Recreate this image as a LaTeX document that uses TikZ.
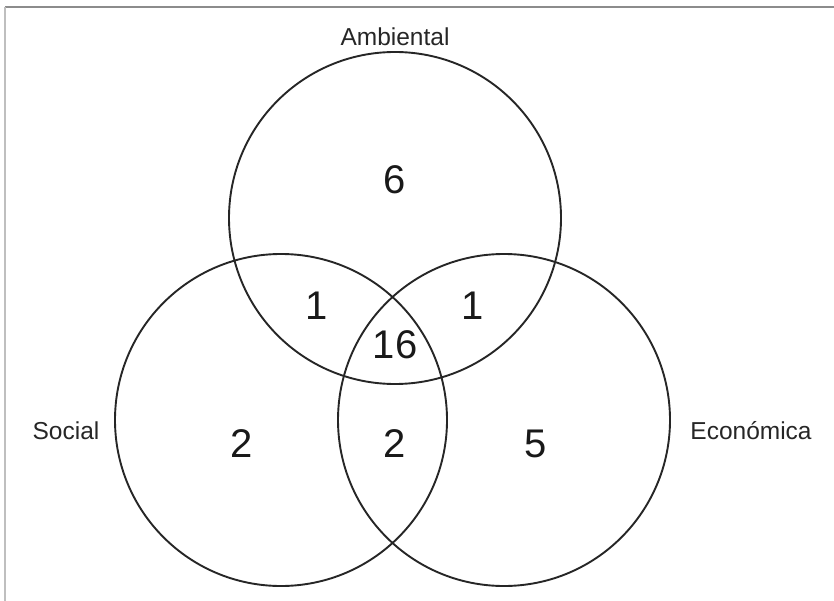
\documentclass[tikz,border=0pt]{standalone}
\usepackage{fontspec}
\setmainfont{Liberation Sans}
\usepackage{tikz}

\begin{document}
\begin{tikzpicture}[x=1pt, y=-1pt,
        set/.style={draw=black!85, line width=1.9pt, circle, minimum size=332pt, inner sep=0pt},
        num/.style={font=\fontsize{40}{48}\selectfont, text=black!90},
        lbl/.style={font=\fontsize{24.5}{30}\selectfont, text=black!85}]
        \useasboundingbox (0,0) rectangle (834,601);
        \draw[black!45, line width=1.5pt] (834,7) -- (5,7);
        \draw[black!25, line width=1.5pt] (5,7) -- (5,601);
        \node[set] (amb) at (395,218) {};
        \node[set] (soc) at (281,420) {};
        \node[set] (eco) at (504,420) {};
        \node[lbl] (lamb) at (395,37) {Ambiental};
        \node[lbl] (lsoc) at (66,431) {Social};
        \node[lbl] (leco) at (751,431) {Económica};
        \node[num] (nA) at (395,180) {6};
        \node[num] (nAS) at (317,306) {1};
        \node[num] (nAE) at (473,306) {1};
        \node[num] (nASE) at (395,345) {16};
        \node[num] (nS) at (242,444) {2};
        \node[num] (nSE) at (395,444) {2};
        \node[num] (nE) at (536,444) {5};
    \end{tikzpicture}
\end{document}
